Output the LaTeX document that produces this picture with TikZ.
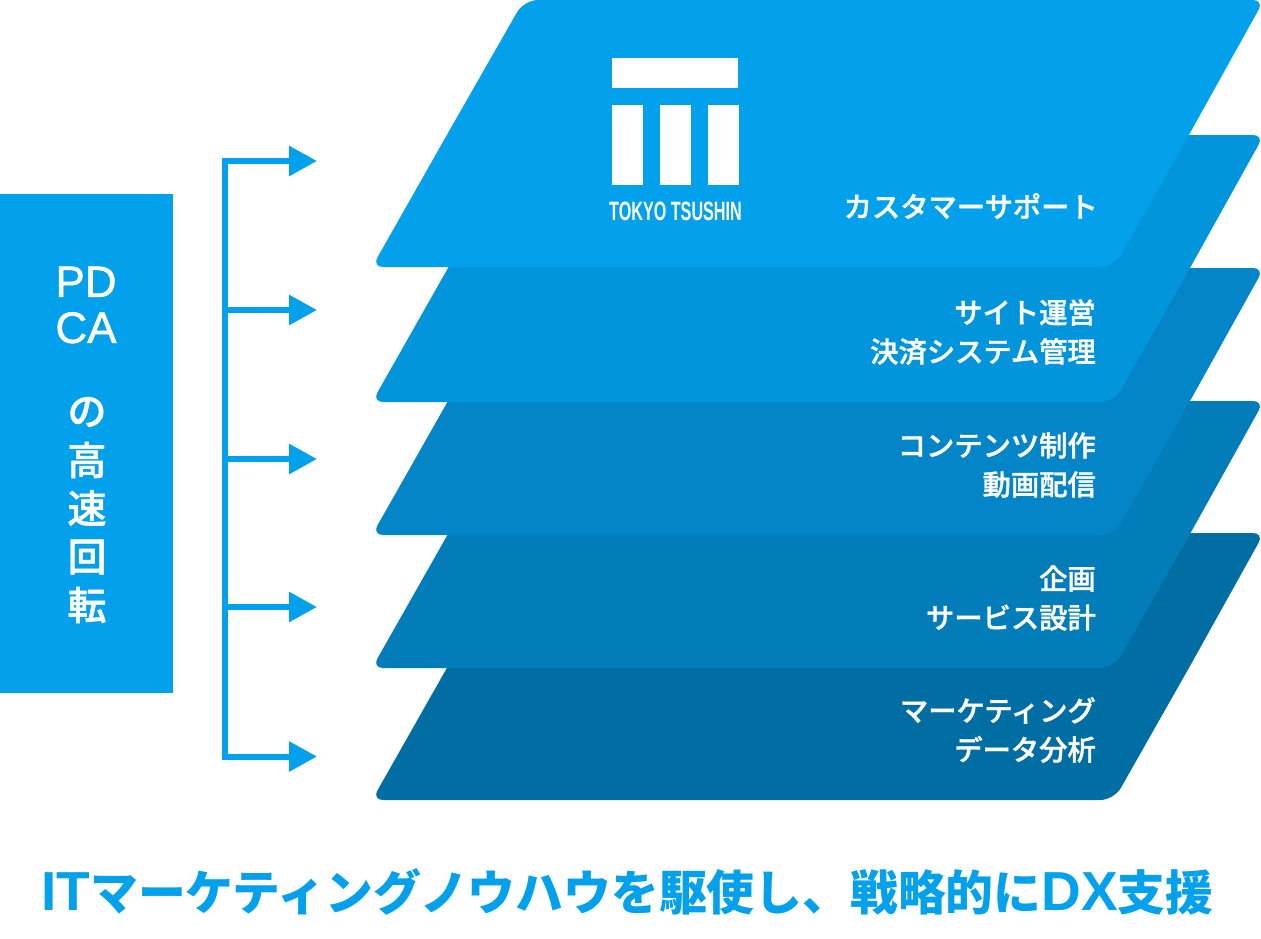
\documentclass[tikz,border=0pt]{standalone}
\usepackage{fontspec}
\setmainfont{Noto Sans CJK JP}
\newfontfamily\mediumfont[FakeBold=1.2]{Noto Sans CJK JP Medium}
\newfontfamily\latinfont[FakeBold=1.2]{Liberation Sans}
\newfontfamily\titlefont{Liberation Sans}
\newfontfamily\logofont[FakeStretch=0.61]{Liberation Sans}
\usepackage{xcolor}
\usetikzlibrary{arrows.meta,positioning}

\definecolor{blueA}{HTML}{03A0EC}
\definecolor{blueB}{HTML}{0295DC}
\definecolor{blueC}{HTML}{0385C7}
\definecolor{blueD}{HTML}{037CBA}
\definecolor{blueE}{HTML}{016EA3}

\tikzset{
    branch/.style={line width=6pt, blueA, -{Triangle[length=28pt,width=29pt]}},
    spine/.style={line width=6pt, blueA, {Triangle[length=28pt,width=29pt]}-{Triangle[length=28pt,width=29pt]}},
    layerlabel/.style={text=white, align=right, anchor=east, font=\fontsize{28.3}{39}\selectfont\mediumfont, inner sep=0pt},
    boxchar/.style={text=white, inner sep=0pt, font=\fontsize{39}{39}\selectfont\mediumfont}
}

% one layer of the stack: top edge at y=#1, colour #2
\newcommand{\stackplate}[2]{
    \fill[#2] (448,#1+133)
        [rounded corners=14pt] -- (524,#1) -- (900,#1)
        [rounded corners=11pt] -- (1264,#1) -- (1190,#1+133)
        [rounded corners=14pt] -- (1114,#1+267) -- (800,#1+267)
        [rounded corners=11pt] -- (372,#1+267) -- cycle;
}

\begin{document}
\begin{tikzpicture}[x=1pt,y=-1pt]
    \useasboundingbox (0,0) rectangle (1261,938);

    % Layers, bottom one first
    \stackplate{533}{blueE}
    \stackplate{401}{blueD}
    \stackplate{268}{blueC}
    \stackplate{135}{blueB}
    \stackplate{0}{blueA}

    % Logo
    \fill[white] (612,58) rectangle (738,88);
    \foreach \x in {612,660,708} {
        \fill[white] (\x,105) rectangle (\x+30.5,185);
    }
    \node[text=white, inner sep=0pt, font=\fontsize{26.5}{26.5}\selectfont\logofont\bfseries] (logo) at (675.5,211) {TOKYO TSUSHIN};

    % Layer labels
    \node[layerlabel] (support) at (1098,206) {カスタマーサポート};
    \node[layerlabel] (site) at (1096,332) {サイト運営\\決済システム管理};
    \node[layerlabel] (contents) at (1096,465) {コンテンツ制作\\動画配信};
    \node[layerlabel] (plan) at (1096,598) {企画\\サービス設計};
    \node[layerlabel] (market) at (1096,730) {マーケティング\\データ分析};

    % PDCA box
    \fill[blueA] (0,194) rectangle (172.5,693);
    \node[text=white, inner sep=0pt, align=center, font=\fontsize{44}{46}\selectfont\latinfont] (pd) at (86,305) {PD\\CA};
    \foreach \n/\t/\y in {a/の/412,b/高/460,c/速/508,d/回/557,e/転/605} {
        \node[boxchar] (char\n) at (87,\y) {\t};
    }

    % Arrows
    \coordinate (top) at (225,161);
    \coordinate (bot) at (225,756.5);
    \coordinate (t1) at (317,161);
    \coordinate (t5) at (317,756.5);
    \draw[spine] (t1) -- (top) -- (bot) -- (t5);
    \foreach \n/\y in {2/310,3/459,4/607} {
        \coordinate (j\n) at (225,\y);
        \coordinate (t\n) at (317,\y);
        \draw[branch] (j\n) -- (t\n);
    }

    % Title
    \node[text=blueA, inner sep=0pt, font=\fontsize{47.8}{49}\selectfont\bfseries] (title) at (627.5,892) {{\titlefont\fontsize{55}{49}\selectfont\bfseries IT}マーケティングノウハウを駆使し、戦略的に{\titlefont\fontsize{55}{49}\selectfont\bfseries DX}支援};
\end{tikzpicture}
\end{document}
